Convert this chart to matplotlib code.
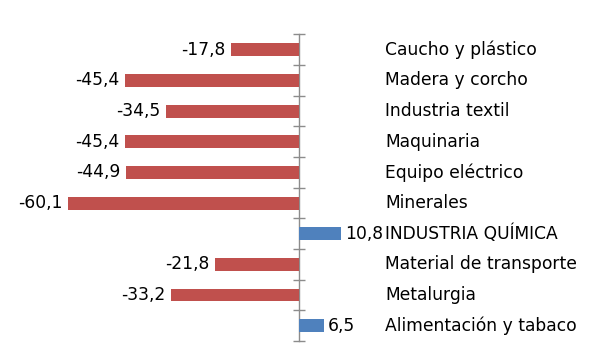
import matplotlib
matplotlib.use("Agg")
import matplotlib.pyplot as plt
from matplotlib.transforms import blended_transform_factory
import numpy as np

categories = ["Caucho y plástico", "Madera y corcho", "Industria textil", "Maquinaria",
              "Equipo eléctrico", "Minerales", "INDUSTRIA QUÍMICA", "Material de transporte",
              "Metalurgia", "Alimentación y tabaco"]
values = [-17.8, -45.4, -34.5, -45.4, -44.9, -60.1, 10.8, -21.8, -33.2, 6.5]
value_labels = ["-17,8", "-45,4", "-34,5", "-45,4", "-44,9", "-60,1", "10,8", "-21,8", "-33,2", "6,5"]

RED = "#C0504D"
BLUE = "#4F81BD"

fig = plt.figure(figsize=(5.98, 3.63), dpi=100)
x0, x1 = -62, 20
pxu = 3.843
left_px = 299 + x0 * pxu
right_px = 299 + x1 * pxu
bottom = 1 - 341 / 363
top = 1 - 34.5 / 363
ax = fig.add_axes([left_px / 598, bottom, (right_px - left_px) / 598, top - bottom])

n = len(categories)
ypos = np.arange(n)
colors = [BLUE if v > 0 else RED for v in values]
ax.barh(ypos, values, height=0.42, color=colors, zorder=3)

ax.set_xlim(x0, x1)
ax.set_ylim(n - 0.5, -0.5)

for s in ["top", "right", "bottom"]:
    ax.spines[s].set_visible(False)
ax.spines["left"].set_position(("data", 0))
ax.spines["left"].set_color("#8c8c8c")
ax.spines["left"].set_linewidth(1.0)
ax.set_xticks([])
ax.set_yticks(np.arange(n + 1) - 0.5)
ax.set_yticklabels([])
ax.tick_params(axis="y", direction="inout", length=8.6, color="#8c8c8c", width=1.0)

fs = 12.3
for i, (v, lab) in enumerate(zip(values, value_labels)):
    if v < 0:
        ax.annotate(lab, xy=(v, i), xytext=(-4, 0), textcoords="offset points",
                    ha="right", va="center", fontsize=fs, color="black")
    else:
        ax.annotate(lab, xy=(v, i), xytext=(3, 0), textcoords="offset points",
                    ha="left", va="center", fontsize=fs, color="black")

tr = blended_transform_factory(fig.transFigure, ax.transData)
for i, c in enumerate(categories):
    ax.text(385 / 598, i, c, transform=tr, ha="left", va="center", fontsize=fs,
            color="black", clip_on=False)

fig.savefig("out.png", dpi=100)
